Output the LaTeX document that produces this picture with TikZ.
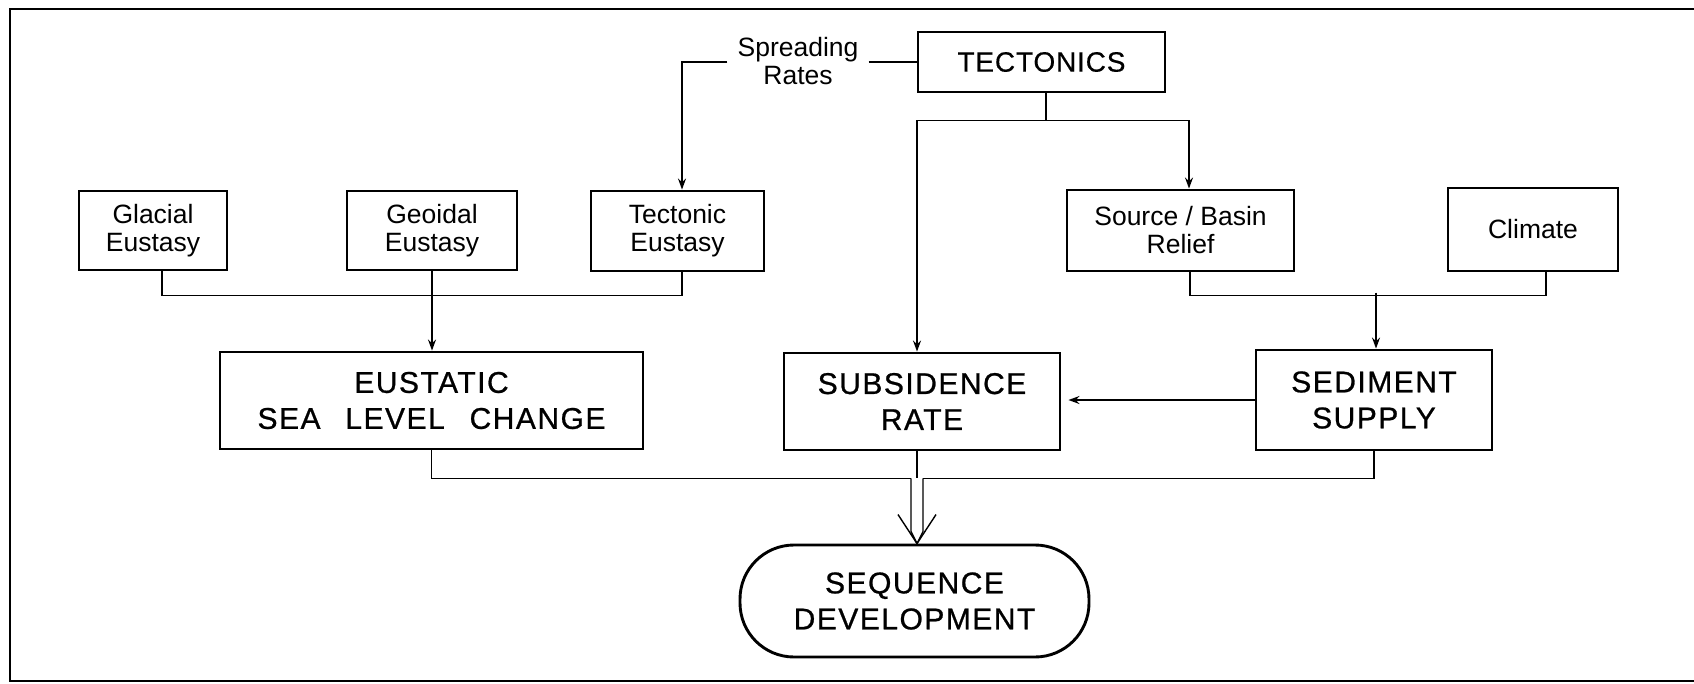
\documentclass[tikz,border=0pt]{standalone}
\usepackage{fontspec}
\setmainfont{Liberation Sans}
\newfontfamily\bigfont[LetterSpace=5,FakeBold=0.8]{Liberation Sans}
\newfontfamily\midfont[LetterSpace=3,FakeBold=0.4]{Liberation Sans}
\usetikzlibrary{arrows.meta,calc}
\begin{document}
\begin{tikzpicture}[x=1pt,y=-1pt,
  box/.style={draw, line width=2.9pt, inner sep=0pt, align=center, font=\fontsize{26.5}{28}\selectfont},
  bigbox/.style={box, font=\bigfont\fontsize{30}{36}\selectfont},
  conn/.style={line width=1.4pt},
  arr/.style={conn, -{Stealth[length=11pt,width=8pt]}},
  frame/.style={line width=2pt}]
\useasboundingbox (0,0) rectangle (1694,683);
\draw[frame] (1700,9) -- (10,9) -- (10,681) -- (1700,681);

% nodes
\node[box, minimum width=247, minimum height=60, font=\midfont\fontsize{28}{30}\selectfont] (tect) at (1041.5,62) {TECTONICS};
\node[align=center, inner xsep=10pt, inner ysep=0pt, font=\fontsize{26.5}{28}\selectfont] (spr) at (798,61) {Spreading\\Rates};

\node[box, minimum width=148, minimum height=79] (glac) at (153,230.5) {Glacial\\Eustasy};
\node[box, minimum width=170, minimum height=79] (geoi) at (432,230.5) {Geoidal\\Eustasy};
\node[box, minimum width=173, minimum height=80] (tecu) at (677.5,231) {Tectonic\\Eustasy};
\node[box, minimum width=227, minimum height=81] (src) at (1180.5,230.5) {Source / Basin\\Relief};
\node[box, minimum width=170, minimum height=83] (clim) at (1533,229.5) {Climate};

\node[bigbox, minimum width=423, minimum height=97] (eust) at (431.5,400.5) {EUSTATIC\\SEA\hspace{0.5em} LEVEL\hspace{0.5em} CHANGE};
\node[bigbox, minimum width=276, minimum height=97] (subs) at (922,401.5) {SUBSIDENCE\\RATE};
\node[bigbox, minimum width=236, minimum height=100] (sed) at (1374,400) {SEDIMENT\\SUPPLY};
\node[bigbox, rounded corners=54pt, minimum width=349, minimum height=112] (seq) at (914.5,601) {SEQUENCE\\DEVELOPMENT};

% helper coordinates derived from nodes
\coordinate (tuN) at ([xshift=4.5pt]tecu.north);
\coordinate (tuS) at ([xshift=4.5pt]tecu.south);
\coordinate (glS) at ([xshift=9pt]glac.south);
\coordinate (tcS) at ([xshift=4.5pt]tect.south);
\coordinate (tb)  at ($(tcS)+(0,27)$);
\coordinate (suN) at ([xshift=-5pt]subs.north);
\coordinate (suS) at ([xshift=-5pt]subs.south);
\coordinate (srN) at ([xshift=8.5pt]src.north);
\coordinate (srS) at ([xshift=9.5pt]src.south);
\coordinate (clS) at ([xshift=13pt]clim.south);
\coordinate (sj)  at ($(sed.north)+(2,-56)$);
\coordinate (dm)  at ($(suS)+(0,27)$);
\coordinate (dl)  at ($(dm)+(-6,0)$);
\coordinate (dr)  at ($(dm)+(6,0)$);
\coordinate (tip) at (seq.north -| dm);

% Spreading rates
\draw[conn] (spr.east |- tect.west) -- (tect.west);
\draw[arr] (spr.west |- tect.west) -| (tuN);

% Tectonics branch
\draw[conn] (tcS) -- (tb);
\draw[arr] (tb) -| (suN);
\draw[arr] (tb) -| (srN);

% eustasy merge
\draw[conn] (glS) -- ++(0,24) -| (tuS);
\draw[arr] (geoi.south) -- (geoi.south |- eust.north);

% sediment merge
\draw[conn] (srS) -- ++(0,23) -| (clS);
\draw[arr] (sj) -- (sj |- sed.north);

% sediment -> subsidence
\draw[arr, shorten >=7pt] (sed.west) -- (sed.west -| subs.east);

% bottom merge
\draw[conn] (eust.south) |- (dl);
\draw[conn] (sed.south) |- (dr);
\draw[conn] (suS) -- (dm);
\draw[conn] (dl) -- ($(tip)+(-6,-12)$) -- (tip);
\draw[conn] (dr) -- ($(tip)+(6,-12)$) -- (tip);
\draw[conn] ($(tip)+(-19,-29)$) -- (tip) -- ($(tip)+(19,-29)$);
\end{tikzpicture}
\end{document}
